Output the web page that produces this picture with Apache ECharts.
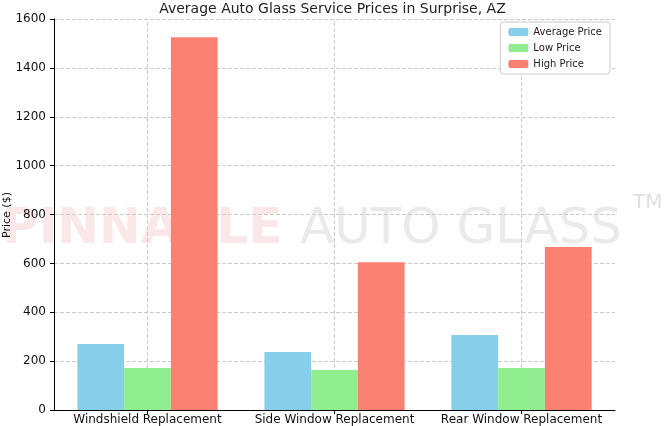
<!DOCTYPE html>
<html><head><meta charset="utf-8">
<script src="https://cdn.jsdelivr.net/npm/echarts@6/dist/echarts.min.js"></script>
<style>html,body{margin:0;padding:0;background:#fff}#c{width:665px;height:426px}</style>
</head><body><div id="c"></div>
<script>
const categories = ["Windshield Replacement","Side Window Replacement","Rear Window Replacement"];
const avgPrice = [270, 237, 307];
const lowPrice = [172, 164, 172];
const highPrice = [1525, 605, 667];
const yAxisName = 'Price ($)';
const chart = echarts.init(document.getElementById('c'));
const f = 'DejaVu Sans';
chart.setOption({
  animation:false,
  textStyle:{fontFamily:f},
  title:{text:'Average Auto Glass Service Prices in Surprise, AZ',left:'center',top:-3,textStyle:{fontFamily:f,fontSize:14,fontWeight:'normal',color:'#222'}},
  graphic:[
    {type:'text',left:2,top:205,style:{text:'PINNACLE',font:'bold 50px "DejaVu Sans"',fill:'rgba(230,120,120,0.18)'},z:0},
    {type:'text',left:300,top:205,style:{text:'AUTO GLASS',font:'50px "DejaVu Sans"',fill:'rgba(150,150,150,0.2)'},z:0},
    {type:'text',left:633,top:193,style:{text:'TM',font:'20px "DejaVu Sans"',fill:'rgba(150,150,150,0.3)'},z:0},
    {type:'text',x:7,y:215,rotation:Math.PI/2,z:10,style:{text:yAxisName,font:'11px "DejaVu Sans"',fill:'#111',align:'center',verticalAlign:'middle'}}
  ],
  legend:{data:['Average Price','Low Price','High Price'],right:55,top:22,orient:'vertical',itemWidth:20,itemHeight:8,itemGap:6,
    backgroundColor:'#fff',borderColor:'#ccc',borderWidth:1,borderRadius:3,padding:[5,8],
    textStyle:{fontSize:10,color:'#222'}},
  grid:{left:54,right:50,top:19,bottom:16,containLabel:false,outerBoundsMode:'none'},
  xAxis:{type:'category',data:categories,axisTick:{show:true,alignWithLabel:true,length:4,lineStyle:{color:'#000'}},
    axisLine:{lineStyle:{color:'#000'}},axisLabel:{color:'#111',fontSize:12,margin:4,interval:0},
    splitLine:{show:false}},
  yAxis:{type:'value',min:0,max:1600,interval:200,
    axisLine:{show:true,lineStyle:{color:'#000'}},axisTick:{show:true,length:4},
    axisLabel:{color:'#111',fontSize:12,formatter:v=>String(v)},splitLine:{lineStyle:{type:'dashed',color:'#ccc'}}},
  series:[
    {name:'grid',type:'line',data:[],silent:true,z:0,
     markLine:{silent:true,symbol:'none',z:0,label:{show:false},lineStyle:{type:'dashed',color:'#ccc',width:1},
       data:categories.map(c=>({xAxis:c}))}},
    {name:'Average Price',type:'bar',data:avgPrice,barWidth:'25%',barGap:'0%',itemStyle:{color:'#87ceeb'},z:5},
    {name:'Low Price',type:'bar',data:lowPrice,barWidth:'25%',itemStyle:{color:'#90ee90'},z:5},
    {name:'High Price',type:'bar',data:highPrice,barWidth:'25%',itemStyle:{color:'#fa8072'},z:5}
  ]
});
</script></body></html>
